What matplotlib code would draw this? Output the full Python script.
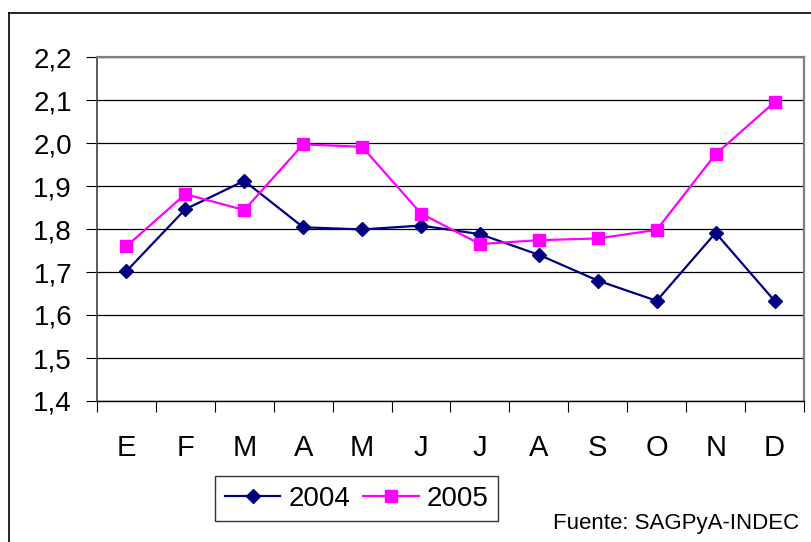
import matplotlib
matplotlib.use('Agg')
import matplotlib.pyplot as plt
from matplotlib.lines import Line2D
from matplotlib.ticker import FixedLocator, FuncFormatter
import numpy as np

# Data
months = ['E', 'F', 'M', 'A', 'M', 'J', 'J', 'A', 'S', 'O', 'N', 'D']
values_2004 = [1.702, 1.846, 1.912, 1.804, 1.799, 1.808, 1.788, 1.740, 1.680, 1.633, 1.791, 1.633]
values_2005 = [1.760, 1.881, 1.844, 1.997, 1.991, 1.836, 1.765, 1.774, 1.778, 1.798, 1.974, 2.095]
y_ticks = [1.4, 1.5, 1.6, 1.7, 1.8, 1.9, 2.0, 2.1, 2.2]

plt.rcParams['font.family'] = ['Liberation Sans', 'DejaVu Sans']

fig = plt.figure(figsize=(8.11, 5.42), dpi=100)
ax = fig.add_axes([97 / 811, 1 - 401 / 542, 707 / 811, 344 / 542])

x = np.arange(len(months))
ax.plot(x, values_2004, color='#000080', lw=1.6, marker='D', ms=7.5, label='2004', zorder=3)
ax.plot(x, values_2005, color='#FF00FF', lw=1.6, marker='s', ms=8, label='2005', zorder=3)

ax.set_xlim(-0.5, len(months) - 0.5)
ax.set_ylim(1.4, 2.2)

# y axis: gridlines and comma decimal labels
ax.set_yticks(y_ticks)
ax.yaxis.set_major_formatter(FuncFormatter(lambda v, p: f'{v:.1f}'.replace('.', ',')))
ax.yaxis.grid(True, color='black', lw=0.9)
ax.set_axisbelow(True)
ax.tick_params(axis='y', direction='out', length=8, width=0.8, pad=10, labelsize=20)

# x axis: ticks at category boundaries, labels at centers
ax.xaxis.set_major_locator(FixedLocator(np.arange(-0.5, len(months), 1.0)))
ax.xaxis.set_minor_locator(FixedLocator(x))
ax.set_xticklabels([])
ax.set_xticklabels(months, minor=True)
ax.tick_params(axis='x', which='major', direction='out', length=8, width=0.8)
ax.tick_params(axis='x', which='minor', length=0, pad=24, labelsize=21)

ax.spines['left'].set_color('#404040')
ax.spines['left'].set_linewidth(1.2)
ax.spines['bottom'].set_color('black')
ax.spines['bottom'].set_linewidth(1.0)
for s in ['top', 'right']:
    ax.spines[s].set_color('#808080')
    ax.spines[s].set_linewidth(1.6)

# outer chart frame (partly cut off in the original)
fig.add_artist(Line2D([9 / 811, 9 / 811], [0, 1 - 13 / 542], transform=fig.transFigure, color='black', lw=1.2))
fig.add_artist(Line2D([9 / 811, 1], [1 - 13 / 542, 1 - 13 / 542], transform=fig.transFigure, color='black', lw=1.2))

leg = fig.legend(loc='upper left', bbox_to_anchor=(215 / 811, 1 - 476 / 542), ncol=2,
                 fontsize=20, frameon=True, fancybox=False, handlelength=2.0,
                 handletextpad=0.3, columnspacing=0.45, borderpad=0.35, borderaxespad=0)
leg.get_frame().set_edgecolor('black')
leg.get_frame().set_linewidth(1.0)

fig.text(799 / 811, 1 - 523 / 542, 'Fuente: SAGPyA-INDEC', ha='right', va='center', fontsize=16)

plt.savefig('out.png', dpi=100)
